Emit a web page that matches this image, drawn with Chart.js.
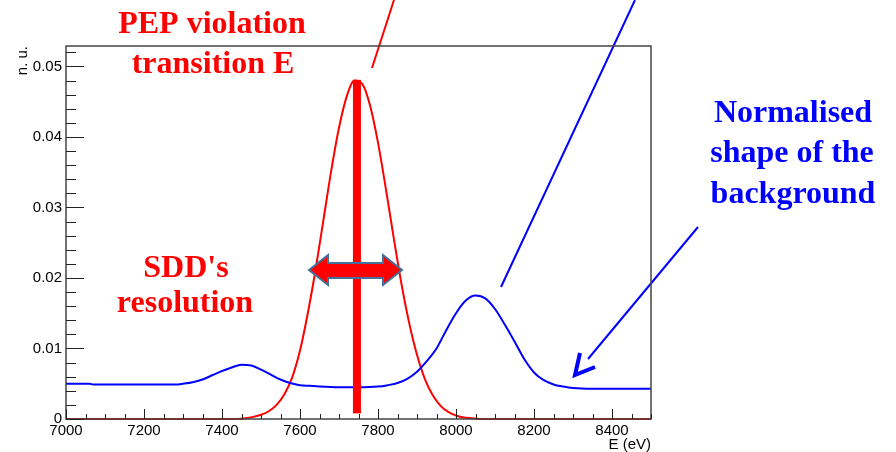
<!DOCTYPE html>
<html>
<head>
<meta charset="utf-8">
<script src="https://cdn.jsdelivr.net/npm/chart.js@4.4.1/dist/chart.umd.min.js"></script>
<style>
  html, body { margin: 0; padding: 0; background: #fff; }
  canvas { display: block; }
</style>
</head>
<body>
<canvas id="myChart" width="896" height="452"></canvas>
<script>
// energies (eV) and values (n.u.)
const redE = [7000, 7440, 7460, 7480, 7500, 7520, 7540, 7560, 7580, 7600, 7620, 7640, 7660, 7680, 7700, 7720, 7740,
  7760, 7780, 7800, 7820, 7840, 7860, 7880, 7900, 7920, 7940, 7960, 7980, 8000, 8020, 8040, 8060, 8500];
const redVal = [0, 0, 0.0001, 0.0003, 0.0006, 0.0011, 0.0020, 0.0035, 0.0059, 0.0097, 0.0150, 0.0212, 0.0282, 0.0352, 0.0413, 0.0458, 0.0480,
  0.0475, 0.0444, 0.0392, 0.0327, 0.0258, 0.0192, 0.0136, 0.0091, 0.0057, 0.0034, 0.0019, 0.0010, 0.0005, 0.0002, 0.0001, 0, 0];

const blueE = [7000, 7060, 7070, 7100, 7200, 7280, 7300, 7325, 7350, 7375, 7400, 7425, 7450, 7475, 7500, 7525, 7550, 7575,
  7600, 7625, 7650, 7700, 7750, 7800, 7825, 7850, 7875, 7900, 7925, 7950, 7975, 8000, 8025, 8050, 8075, 8100, 8125,
  8150, 8175, 8200, 8225, 8250, 8275, 8300, 8350, 8500];
const blueVal = [0.0050, 0.0050, 0.0049, 0.0049, 0.0049, 0.0049, 0.0050, 0.0052, 0.0056, 0.0062, 0.0068, 0.0073, 0.0077, 0.0076, 0.0070, 0.0063, 0.0056, 0.0051,
  0.0048, 0.0047, 0.0046, 0.0045, 0.0045, 0.0046, 0.0048, 0.0051, 0.0057, 0.0067, 0.0082, 0.0100, 0.0126, 0.0150, 0.0168, 0.0175, 0.0171, 0.0156, 0.0134,
  0.0110, 0.0085, 0.0066, 0.0055, 0.0049, 0.0046, 0.0044, 0.0043, 0.0043];

const xTicks = [7000, 7200, 7400, 7600, 7800, 8000, 8200, 8400];
const yTicks = [0, 0.01, 0.02, 0.03, 0.04, 0.05];
const peakE = 7746;
const peakVal = 0.0481;

const toPts = (xs, ys) => xs.map((v, i) => ({ x: v, y: ys[i] }));

// ROOT-like frame, inward ticks, axis titles and the hand-drawn annotations
const rootDecor = {
  id: 'rootDecor',
  afterDatasetsDraw(chart) {
    const { ctx, chartArea: a, scales: { x, y } } = chart;
    ctx.save();

    // thick red bar at the transition energy
    const px = x.getPixelForValue(peakE);
    const top = y.getPixelForValue(peakVal);
    const bot = y.getPixelForValue(0.0008);
    ctx.fillStyle = '#ff0000';
    ctx.fillRect(px - 4, top, 8, bot - top);

    // double arrow (resolution)
    const cy = 270;
    ctx.beginPath();
    ctx.moveTo(309, cy);
    ctx.lineTo(328, cy - 15);
    ctx.lineTo(328, cy - 7);
    ctx.lineTo(383, cy - 7);
    ctx.lineTo(383, cy - 15);
    ctx.lineTo(402, cy);
    ctx.lineTo(383, cy + 15);
    ctx.lineTo(383, cy + 8);
    ctx.lineTo(328, cy + 8);
    ctx.lineTo(328, cy + 15);
    ctx.closePath();
    ctx.fillStyle = '#ff0000';
    ctx.fill();
    ctx.strokeStyle = '#41719c';
    ctx.lineWidth = 2;
    ctx.stroke();

    // pointer lines
    ctx.lineWidth = 2;
    ctx.strokeStyle = '#ff0000';
    ctx.beginPath();
    ctx.moveTo(372, 68);
    ctx.lineTo(394, 0);
    ctx.stroke();

    ctx.strokeStyle = '#0000ff';
    ctx.beginPath();
    ctx.moveTo(501, 287);
    ctx.lineTo(635, 0);
    ctx.stroke();

    ctx.beginPath();
    ctx.moveTo(698, 227);
    ctx.lineTo(588, 359);
    ctx.stroke();

    ctx.lineWidth = 4;
    ctx.lineJoin = 'miter';
    ctx.beginPath();
    ctx.moveTo(580, 353);
    ctx.lineTo(575, 375);
    ctx.lineTo(595, 367);
    ctx.stroke();

    // frame
    ctx.strokeStyle = '#444';
    ctx.lineWidth = 1.5;
    ctx.strokeRect(a.left, a.top, a.right - a.left, a.bottom - a.top);

    // x ticks: major every 200, minor every 50
    ctx.lineWidth = 1;
    ctx.strokeStyle = '#222';
    ctx.beginPath();
    for (let e = 7000; e <= 8500; e += 50) {
      const p = Math.round(x.getPixelForValue(e)) + 0.5;
      const len = (e % 200 === 0) ? 10 : 5;
      ctx.moveTo(p, a.bottom);
      ctx.lineTo(p, a.bottom - len);
    }
    // y ticks: major every 0.01, minor every 0.002
    for (let k = 0; k <= 26; k++) {
      const p = Math.round(y.getPixelForValue(k * 0.002)) + 0.5;
      const len = (k % 5 === 0) ? 18 : 10;
      ctx.moveTo(a.left, p);
      ctx.lineTo(a.left + len, p);
    }
    ctx.stroke();

    // axis titles
    ctx.fillStyle = '#000';
    ctx.font = '15px "Liberation Sans", Arial, sans-serif';
    ctx.textAlign = 'right';
    ctx.textBaseline = 'alphabetic';
    ctx.fillText('E (eV)', a.right, 449);
    ctx.save();
    ctx.translate(27, a.top);
    ctx.rotate(-Math.PI / 2);
    ctx.fillText('n. u.', 0, 0);
    ctx.restore();

    // annotation texts
    ctx.textAlign = 'center';
    ctx.font = 'bold 32px "Liberation Serif", serif';
    ctx.fillStyle = '#ff0000';
    ctx.fillText('PEP violation', 212, 33);
    ctx.fillText('transition E', 213, 73);
    ctx.fillText("SDD's", 186, 277);
    ctx.fillText('resolution', 185, 312);
    ctx.fillStyle = '#0000ff';
    ctx.fillText('Normalised', 793, 122);
    ctx.fillText('shape of the', 792, 162);
    ctx.fillText('background', 793, 203);

    ctx.restore();
  }
};

const ctx = document.getElementById('myChart').getContext('2d');
const myChart = new Chart(ctx, {
  type: 'line',
  data: {
    datasets: [
      {
        label: 'background',
        data: toPts(blueE, blueVal),
        borderColor: '#0000ff',
        borderWidth: 2,
        pointRadius: 0,
        cubicInterpolationMode: 'monotone',
        clip: 4
      },
      {
        label: 'signal',
        data: toPts(redE, redVal),
        borderColor: '#ff0000',
        borderWidth: 2,
        pointRadius: 0,
        cubicInterpolationMode: 'monotone',
        clip: 4
      }
    ]
  },
  options: {
    responsive: false,
    animation: false,
    layout: { padding: { top: 46, right: 245, left: 0, bottom: 0 } },
    plugins: { legend: { display: false }, tooltip: { enabled: false } },
    scales: {
      x: {
        type: 'linear',
        min: 7000,
        max: 8500,
        grid: { display: false, drawTicks: false, tickLength: 0 },
        border: { display: false },
        afterFit(scale) { scale.height = 33; },
        afterBuildTicks(scale) { scale.ticks = xTicks.map(v => ({ value: v })); },
        ticks: {
          color: '#000',
          padding: 3,
          maxRotation: 0,
          font: { family: '"Liberation Sans", Arial, sans-serif', size: 15 },
          callback: v => String(v)
        }
      },
      y: {
        min: 0,
        max: 0.0529,
        grid: { display: false, drawTicks: false, tickLength: 0 },
        border: { display: false },
        afterFit(scale) { scale.width = 66; },
        afterBuildTicks(scale) { scale.ticks = yTicks.map(v => ({ value: v })); },
        ticks: {
          color: '#000',
          padding: 4,
          font: { family: '"Liberation Sans", Arial, sans-serif', size: 15 },
          callback: v => (v === 0 ? '0' : v.toFixed(2))
        }
      }
    }
  },
  plugins: [rootDecor]
});
</script>
</body>
</html>
